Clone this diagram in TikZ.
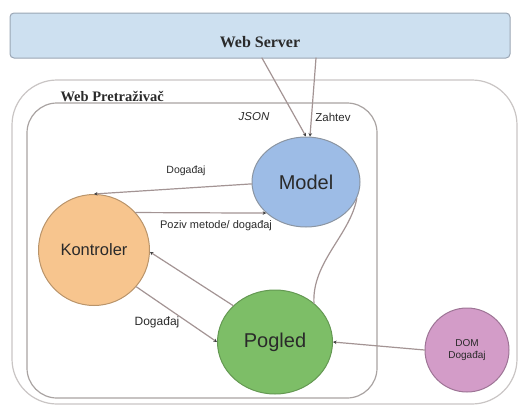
\documentclass[tikz,border=0pt]{standalone}
\usepackage{fontspec}
\setmainfont{Liberation Sans}
\newfontfamily\titlefont{Liberation Serif}
\usetikzlibrary{arrows.meta,positioning,shapes.geometric}

\definecolor{serverfill}{HTML}{CDE0F0}
\definecolor{serverline}{HTML}{9AA6B4}
\definecolor{boxline}{HTML}{A9A3A2}
\definecolor{outerline}{HTML}{C9C5C4}
\definecolor{connline}{HTML}{A39494}
\definecolor{modelfill}{HTML}{9DBCE6}
\definecolor{kontrolerfill}{HTML}{F7C58E}
\definecolor{pogledfill}{HTML}{7DBE67}
\definecolor{domfill}{HTML}{D39CC8}
\definecolor{textgray}{HTML}{2A2A2A}

\begin{document}
\begin{tikzpicture}[x=1pt, y=-1pt, line cap=round, line join=round,
  title/.style={font=\titlefont\bfseries\fontsize{16}{18}\selectfont, text=textgray},
  part/.style={draw, line width=1pt, text=textgray, inner sep=0pt},
  conn/.style={draw=connline, line width=1.2pt, -{Stealth[length=3.5pt,width=3.5pt,color=black!75]}},
  lbl/.style={font=\fontsize{10.5}{12}\selectfont, text=textgray}]
\useasboundingbox (0,0) rectangle (520,407);
% server and browser frames
\node[draw=serverline, fill=serverfill, line width=1pt, rounded corners=4pt,
  minimum width=500pt, minimum height=45pt] (server) at (260,35.5) {};
\node[title] (servertitle) at (260,42) {Web Server};
\draw[outerline, line width=1.2pt, rounded corners=45pt] (12,80) rectangle (517,404);
\node[title, font=\titlefont\bfseries\fontsize{14.5}{16}\selectfont, anchor=west] (browser) at (57,96) {Web Pretraživač};
\draw[boxline, line width=1.2pt, rounded corners=30pt] (27,103) rectangle (377,398);
% mvc parts
\node[part, ellipse, draw=serverline!90!black, fill=modelfill, minimum width=108pt, minimum height=90pt,
  font=\fontsize{20}{22}\selectfont] (model) at (306,182) {Model};
\node[part, circle, draw=kontrolerfill!75!black, fill=kontrolerfill, minimum size=111pt,
  font=\fontsize{16.5}{18}\selectfont] (kontroler) at (94,250) {Kontroler};
\node[part, ellipse, draw=pogledfill!80!black, fill=pogledfill, minimum width=115pt, minimum height=104pt,
  font=\fontsize{20}{22}\selectfont] (pogled) at (275,342) {Pogled};
\node[part, circle, draw=domfill!75!black, fill=domfill, minimum size=84pt, align=center,
  font=\fontsize{10}{12}\selectfont] (dom) at (467,350) {DOM\\Događaj};
% connectors
\coordinate (jsonout) at (262,58);
\coordinate (zahtevout) at (316,58);
\draw[conn] (jsonout) -- (model.north);
\draw[conn] (zahtevout) -- (model.85);
\node[lbl, font=\itshape\fontsize{11.5}{12}\selectfont] (json) at (254,117) {JSON};
\node[lbl, font=\fontsize{11.5}{12}\selectfont] (zahtev) at (333,117) {Zahtev};
\draw[conn] (model.182) -- (kontroler.north);
\node[lbl] (dogadjaj1) at (186,171) {Događaj};
\draw[conn] (kontroler.42) -- (model.218);
\node[lbl, font=\fontsize{11}{12}\selectfont] (poziv) at (216,226) {Poziv metode/ događaj};
\draw[conn] (pogled.139) -- (kontroler.-2);
\draw[conn] (kontroler.-41) -- (pogled.west);
\node[lbl, font=\fontsize{12}{13}\selectfont] (dogadjaj2) at (157,322) {Događaj};
\draw[connline, line width=1.2pt] (model.-18) .. controls (350,235) and (312,262) .. (pogled.45);
\draw[conn] (dom.west) -- (pogled.east);
\end{tikzpicture}
\end{document}
